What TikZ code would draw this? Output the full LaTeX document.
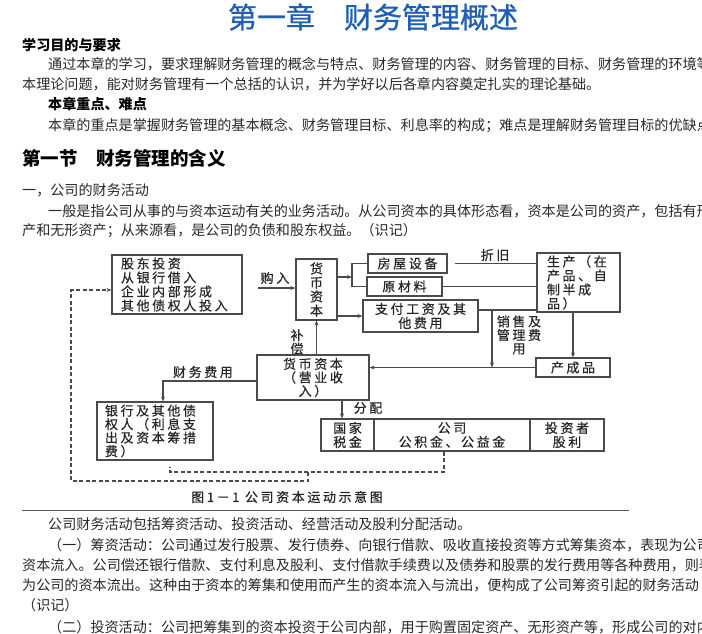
\documentclass[tikz,border=0pt]{standalone}
\usepackage{fontspec}
\setmainfont{Noto Sans CJK SC}
\newfontfamily\dgfont[LetterSpace=20,FakeBold=0.5]{Noto Sans CJK SC}
\newfontfamily\ttlfont[FakeBold=0.8]{Noto Sans CJK SC}
\usetikzlibrary{arrows.meta}
\definecolor{titleblue}{RGB}{30,95,180}
\definecolor{linegray}{RGB}{75,75,75}
\definecolor{bodytext}{RGB}{40,40,40}
\begin{document}
\begin{tikzpicture}[x=1pt,y=-1pt,
  body/.style={anchor=west,inner sep=0pt,font=\fontsize{14.1}{17}\selectfont,text=bodytext},
  boldline/.style={anchor=west,inner sep=0pt,font=\fontsize{14.1}{17}\selectfont\bfseries,text=black},
  sectitle/.style={anchor=west,inner sep=0pt,font=\fontsize{18.5}{22}\selectfont\bfseries,text=black},
  maintitle/.style={inner sep=0pt,font=\ttlfont\fontsize{29}{32}\selectfont,text=titleblue},
  box/.style={draw=linegray,line width=1.2pt,inner sep=0pt,font=\dgfont\fontsize{13}{14}\selectfont,text=black!85},
  lbl/.style={inner sep=0pt,font=\dgfont\fontsize{13}{13.5}\selectfont,text=black!85,align=center},
  conn/.style={draw=linegray,line width=1.1pt},
  arr/.style={conn,-{Stealth[length=5pt,width=4pt]}},
  dashline/.style={draw=linegray,line width=1.1pt,dash pattern=on 4pt off 2.5pt}
]
\useasboundingbox (0,0) rectangle (702,633);
\clip (0,0) rectangle (702,633);

% ---- text above ----
\node[maintitle] (t0) at (373,17) {第一章　财务管理概述};
\node[boldline] (h1) at (22,45) {学习目的与要求};
\node[body] (p1) at (48,64) {通过本章的学习，要求理解财务管理的概念与特点、财务管理的内容、财务管理的目标、财务管理的环境等};
\node[body] (p2) at (22,84) {本理论问题，能对财务管理有一个总括的认识，并为学好以后各章内容奠定扎实的理论基础。};
\node[boldline] (h2) at (48,104) {本章重点、难点};
\node[body] (p3) at (48,126) {本章的重点是掌握财务管理的基本概念、财务管理目标、利息率的构成；难点是理解财务管理目标的优缺点};
\node[sectitle] (h3) at (22,158) {第一节　财务管理的含义};
\node[body] (p4) at (22,190) {一，公司的财务活动};
\node[body] (p5) at (48,211) {一般是指公司从事的与资本运动有关的业务活动。从公司资本的具体形态看，资本是公司的资产，包括有形};
\node[body] (p6) at (22,231) {产和无形资产；从来源看，是公司的负债和股东权益。（识记）};

% ---- diagram boxes ----
\node[box, minimum height=59pt, text width=112pt, inner xsep=9pt, align=left] (gd) at (177,284.5) {股东投资\\从银行借入\\企业内部形成\\其他债权人投入};
\node[box, minimum width=41pt, minimum height=61pt, align=center] (hb1) at (316.5,289.5) {货\\币\\资\\本};
\node[box, minimum width=79pt, minimum height=19pt] (fw) at (407.5,263.5) {房屋设备};
\node[box, minimum width=75pt, minimum height=19pt] (ycl) at (404.5,286.5) {原材料};
\node[box, minimum width=115pt, minimum height=32pt, align=center] (zf) at (420.5,316) {支付工资及其\\他费用};
\node[box, minimum height=59pt, text width=63pt, inner xsep=10pt, align=left] (sc) at (578.5,282.5) {生产（在\\产品、自\\制半成\\品）};
\node[box, minimum width=74pt, minimum height=19pt] (ccp) at (573,367.5) {产成品};
\node[box, minimum width=112pt, minimum height=45pt, align=center, font=\dgfont\fontsize{13}{13.5}\selectfont] (hb2) at (313,377.5) {货币资本\\（营业收\\入）};
\node[box, minimum height=58pt, text width=100pt, inner xsep=8pt, align=left, font=\dgfont\fontsize{13}{13.5}\selectfont] (yh) at (155,431) {银行及其他债\\权人（利息支\\出及资本筹措\\费）};
\node[box, minimum width=53pt, minimum height=32pt, align=center] (gj) at (347.5,435) {国家\\税金};
\node[box, minimum width=156pt, minimum height=32pt, align=center] (gs) at (452,435) {公司\\公积金、公益金};
\node[box, minimum width=74pt, minimum height=32pt, align=center] (tz) at (567,435) {投资者\\股利};

% ---- labels ----
\node[lbl] (lgr) at (275,278) {购入};
\node[lbl] (lzj) at (495,255) {折旧};
\node[lbl] (lxs) at (519,335) {销售及\\管理费\\用};
\node[lbl] (lbc) at (297,342) {补\\偿};
\node[lbl] (lcw) at (203,372) {财务费用};
\node[lbl] (lfp) at (368,408) {分配};
\node[lbl] (cap) at (287,497) {图1－1 公司资本运动示意图};

% ---- connectors ----
\coordinate (a1) at (242,288);
\draw[arr, shorten <=15pt] (gd.east |- a1) -- (hb1.west |- a1);
\coordinate (br) at (352,277);
\draw[arr] (hb1.east |- br) -- (br);
\draw[conn] (fw.west) -| (br) |- (ycl.west);
\draw[arr] (hb1.east |- zf.west) -- (zf.west);
\draw[conn, shorten <=7pt] (fw.east) -- (fw.east -| sc.west);
\draw[conn] (ycl.east) -- (ycl.east -| sc.west);
\coordinate (j1) at (492,310);
\draw[conn] (zf.east |- j1) -- (j1 -| sc.west);
\draw[arr] (j1) -- (j1 |- ccp.west);
\draw[arr] (ccp.north |- sc.south) -- (ccp.north);
\draw[arr] (ccp.west) -- (ccp.west -| hb2.east);
\draw[arr] (hb1.south |- hb2.north) -- (hb1.south);
\coordinate (k1) at (163,381);
\draw[arr] (hb2.west |- k1) -- (k1) -- (k1 |- yh.north);
\coordinate (k2) at (342,400);
\draw[arr] (k2 |- hb2.south) -- (k2 |- gj.north);

% ---- dashed return loop ----
\coordinate (d1) at (444,472);
\coordinate (d2) at (308,472);
\coordinate (d3) at (308,481);
\coordinate (d4) at (71,481);
\coordinate (d5) at (71,290);
\coordinate (d6) at (170,472);
\coordinate (d7) at (170,467);
\draw[dashline] (d1 |- gs.south) -- (d1) -- (d6) -- (d7);
\draw[dashline, -{Stealth[length=5pt,width=4pt]}] (d2) -- (d3) -- (d4) -- (d5) -- (d5 -| gd.west);

% ---- rule and text below ----
\draw[draw=black!65, line width=0.8pt] (22,510) -- (629,510);
\node[body] (p7) at (48,524) {公司财务活动包括筹资活动、投资活动、经营活动及股利分配活动。};
\node[body] (p8) at (48,545) {（一）筹资活动：公司通过发行股票、发行债券、向银行借款、吸收直接投资等方式筹集资本，表现为公司};
\node[body] (p9) at (22,565) {资本流入。公司偿还银行借款、支付利息及股利、支付借款手续费以及债券和股票的发行费用等各种费用，则表};
\node[body] (p10) at (22,585) {为公司的资本流出。这种由于资本的筹集和使用而产生的资本流入与流出，便构成了公司筹资引起的财务活动};
\node[body] (p11) at (22,605) {（识记）};
\node[body] (p12) at (48,627) {（二）投资活动：公司把筹集到的资本投资于公司内部，用于购置固定资产、无形资产等，形成公司的对内};
\end{tikzpicture}
\end{document}
